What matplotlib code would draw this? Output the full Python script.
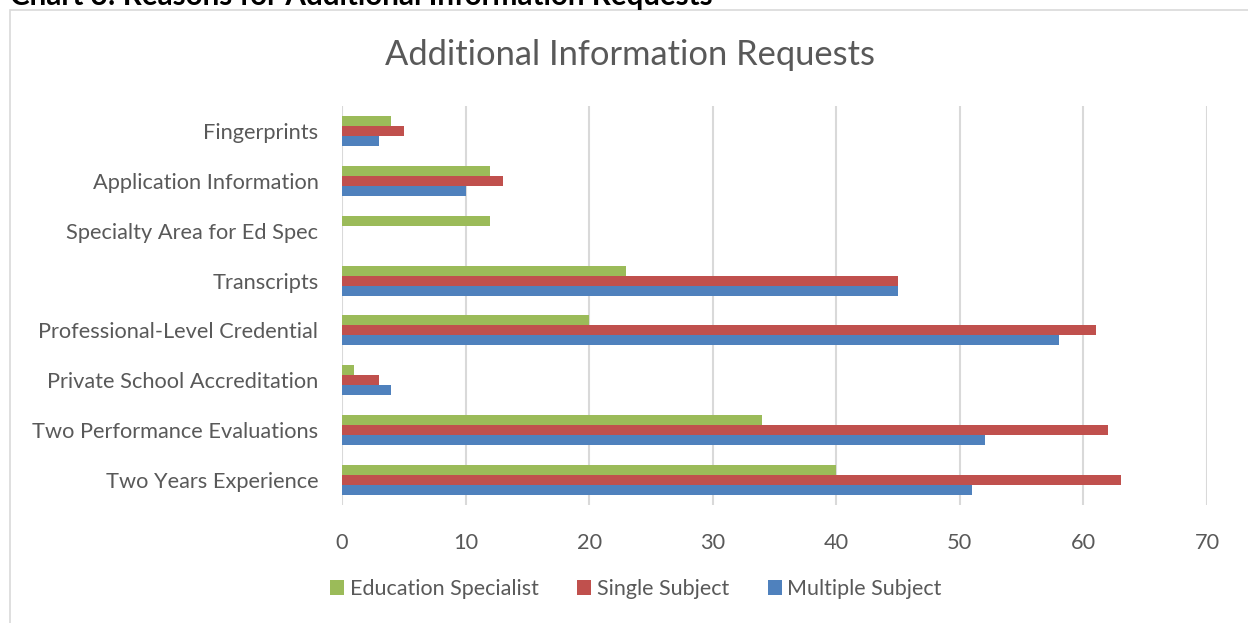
import numpy as np
import matplotlib
matplotlib.use("Agg")
from matplotlib import pyplot
from matplotlib.patches import Rectangle

# data (top to bottom as shown in the chart)
categories = ["Fingerprints", "Application Information", "Specialty Area for Ed Spec",
              "Transcripts", "Professional-Level Credential", "Private School Accreditation",
              "Two Performance Evaluations", "Two Years Experience"]
education_specialist = [4, 12, 12, 23, 20, 1, 34, 40]
single_subject = [5, 13, 0, 45, 61, 3, 62, 63]
multiple_subject = [3, 10, 0, 45, 58, 4, 52, 51]
x_ticks = [0, 10, 20, 30, 40, 50, 60, 70]

pyplot.rcParams["font.family"] = ["Lato", "DejaVu Sans"]
gray_text = "#595959"
grid_col = "#d9d9d9"

W, H = 1248, 623
fig = pyplot.figure(figsize=(W / 100, H / 100), dpi=100)

# outer chart border (cut off at right/bottom)
fig.add_artist(Rectangle((10 / W, -0.05), 1.1, 1 - 10 / H + 0.05, transform=fig.transFigure,
                         fill=False, edgecolor=grid_col, linewidth=1.2))

# partly cut caption above the chart
fig.text(10 / W, 1 - 5 / H, "Chart 3: Reasons for Additional Information Requests",
         fontsize=21.3, fontweight="bold", color="black", va="baseline", ha="left")

ax = fig.add_axes([342 / W, 1 - 505 / H, 865 / W, 399 / H])

n = len(categories)
ypos = np.arange(n)[::-1]
h = 0.2
ax.barh(ypos - h, multiple_subject, height=h, color="#4f81bd", label="Multiple Subject", zorder=3)
ax.barh(ypos, single_subject, height=h, color="#c0504d", label="Single Subject", zorder=3)
ax.barh(ypos + h, education_specialist, height=h, color="#9bbb59", label="Education Specialist", zorder=3)

ax.set_xlim(0, 70)
ax.set_ylim(-0.5, n - 0.5)
ax.set_xticks(x_ticks)
ax.set_yticks(ypos)
ax.set_yticklabels(categories)
ax.tick_params(axis="both", length=0, labelcolor=gray_text, labelsize=15.7)
ax.tick_params(axis="y", pad=17)
ax.tick_params(axis="x", pad=20)
ax.xaxis.grid(True, color=grid_col, linewidth=1.5, zorder=0)
for s in ["top", "right", "bottom", "left"]:
    ax.spines[s].set_visible(False)

fig.text(630 / W, 1 - 55 / H, "Additional Information Requests", fontsize=24.8,
         color=gray_text, ha="center", va="center")

handles, labels = ax.get_legend_handles_labels()
fig.legend(handles[::-1], labels[::-1], loc="center", bbox_to_anchor=(636 / W, 1 - 589 / H),
           ncol=3, frameon=False, fontsize=15.5, labelcolor=gray_text,
           handlelength=0.65, handleheight=0.65, handletextpad=0.25, columnspacing=1.8)

fig.savefig("out.png", dpi=100)
